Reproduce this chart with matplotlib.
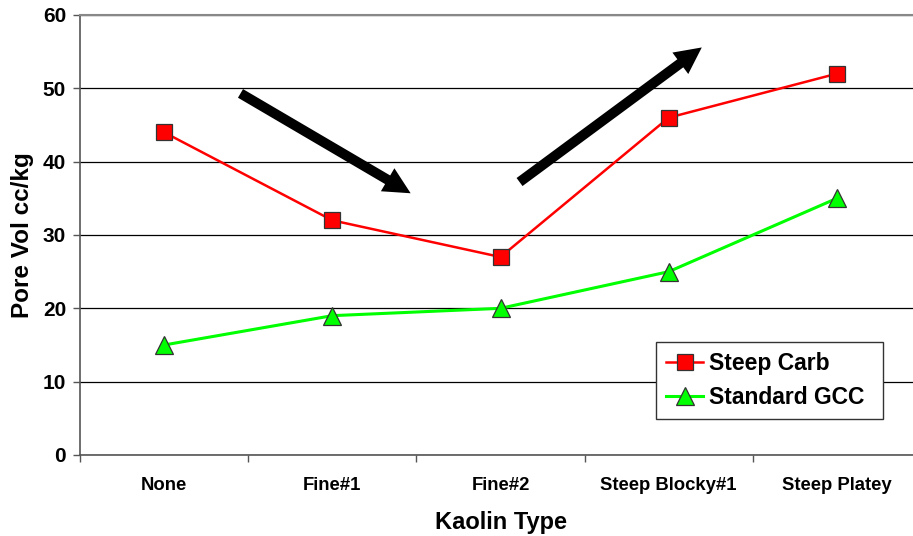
import matplotlib.pyplot as plt
from matplotlib.ticker import FixedLocator

plt.rcParams['font.family'] = ['Liberation Sans', 'DejaVu Sans']
plt.rcParams['font.weight'] = 'bold'

kaolin = ['None', 'Fine#1', 'Fine#2', 'Steep Blocky#1', 'Steep Platey']
steep_carb = [44, 32, 27, 46, 52]
standard_gcc = [15, 19, 20, 25, 35]

fig = plt.figure(figsize=(9.13, 5.36), dpi=100)
ax = fig.add_axes([80 / 913, 81 / 536, 841 / 913, 440 / 536])

x = list(range(len(kaolin)))
ax.plot(x, steep_carb, color='#ff0000', lw=1.8, marker='s', ms=12,
        mfc='#ff0000', mec='#333333', mew=0.9, label='Steep Carb', zorder=4)
ax.plot(x, standard_gcc, color='#00ff00', lw=2.2, marker='^', ms=13,
        mfc='#00ff00', mec='#333333', mew=0.9, label='Standard GCC', zorder=4)

ax.set_xlim(-0.5, 4.5)
ax.set_ylim(0, 60)
ax.set_yticks(range(0, 61, 10))
ax.yaxis.grid(True, color='black', lw=0.9)
ax.set_axisbelow(True)

ax.set_xticks(x)
ax.set_xticklabels(kaolin, fontsize=13.3, fontweight='bold')
# tick marks sit between the categories
ax.xaxis.set_minor_locator(FixedLocator([i - 0.5 for i in range(6)]))
ax.tick_params(axis='x', which='major', length=0, pad=16)
ax.tick_params(axis='x', which='minor', length=5, width=1, color='#555555')
ax.tick_params(axis='y', length=5, width=1, color='#555555', labelsize=15, pad=5)
for lbl in ax.get_yticklabels():
    lbl.set_fontweight('bold')

for side in ['left', 'bottom']:
    ax.spines[side].set_color('#555555')
    ax.spines[side].set_linewidth(1.2)
ax.spines['top'].set_color('#888888')
ax.spines['top'].set_linewidth(1.5)
ax.spines['right'].set_visible(False)

ax.set_xlabel('Kaolin Type', fontsize=17, fontweight='bold', labelpad=12)
ax.set_ylabel('Pore Vol cc/kg', fontsize=17.5, fontweight='bold', labelpad=6)

# trend arrows
arrow_style = dict(arrowstyle='simple,head_length=1.6,head_width=1.6,tail_width=0.6',
                   mutation_scale=12, color='black', lw=0)
ax.annotate('', xy=(1.48, 35.5), xytext=(0.44, 49.5), arrowprops=arrow_style, zorder=5)
ax.annotate('', xy=(3.21, 55.8), xytext=(2.10, 37.0), arrowprops=arrow_style, zorder=5)

leg = ax.legend(loc='lower left', bbox_to_anchor=(0.685, 0.082, 0.27, 0.175),
                mode='expand', fancybox=False, framealpha=1, edgecolor='#333333',
                prop={'size': 16.5, 'weight': 'bold'}, handlelength=1.6,
                borderaxespad=0, borderpad=0.45, labelspacing=0.45, handletextpad=0.25)
leg.get_frame().set_linewidth(1.0)

fig.savefig('out.png', dpi=100)
